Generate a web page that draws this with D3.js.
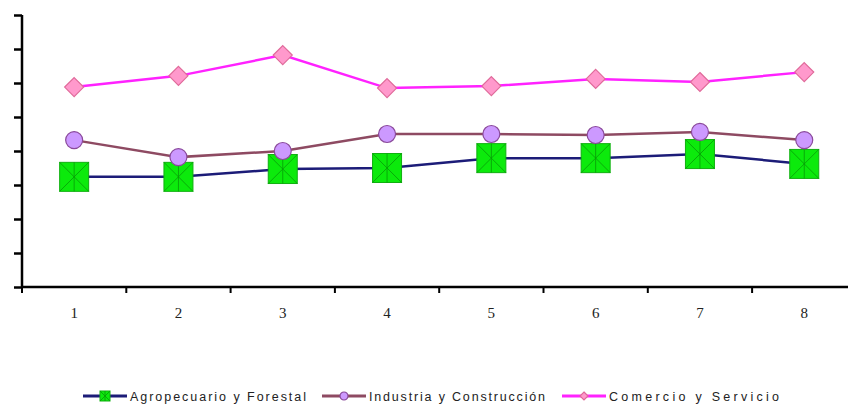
<!DOCTYPE html>
<html>
<head>
<meta charset="utf-8">
<script src="https://cdn.jsdelivr.net/npm/d3@7"></script>
<style>
  body { margin: 0; background: #fff; }
</style>
</head>
<body>
<script>
var categories = ["1", "2", "3", "4", "5", "6", "7", "8"];
var agro = [32.4, 32.4, 34.7, 35.0, 37.9, 37.9, 39.1, 36.2];
var industria = [43.2, 38.2, 40.0, 45.0, 45.0, 44.7, 45.6, 43.2];
var comercio = [58.8, 62.1, 68.2, 58.5, 59.1, 61.2, 60.3, 63.2];
var seriesNames = ["Agropecuario y Forestal", "Industria y Construcción", "Comercio y Servicio"];
var yTicks = [0, 10, 20, 30, 40, 50, 60, 70, 80];

var width = 848, height = 408;
var margin = {top: 15, left: 22, bottom: 121};

var svg = d3.select("body").append("svg")
    .attr("width", width)
    .attr("height", height);

var x = d3.scaleBand()
    .domain(categories)
    .range([margin.left, margin.left + 8 * 104.3]);

var y = d3.scaleLinear()
    .domain([0, 80])
    .range([height - margin.bottom, margin.top]);

var series = [
    {name: seriesNames[0], values: agro, line: "#1c1c78", marker: "square"},
    {name: seriesNames[1], values: industria, line: "#8e4a62", marker: "circle"},
    {name: seriesNames[2], values: comercio, line: "#ff22ff", marker: "diamond"}
];

// axes
var yAxis = svg.append("g")
    .attr("transform", "translate(" + margin.left + ",0)")
    .call(d3.axisLeft(y).tickValues(yTicks).tickSize(8).tickFormat(""));
yAxis.select(".domain").attr("stroke-width", 2.5).attr("d", "M0," + y(80) + "V" + y(0));
yAxis.selectAll(".tick line").attr("stroke-width", 2.5);

var xAxis = svg.append("g")
    .attr("transform", "translate(0," + y(0) + ")");
xAxis.append("line")
    .attr("x1", margin.left).attr("x2", width)
    .attr("stroke", "#000").attr("stroke-width", 2.5);
xAxis.selectAll(".xt")
    .data(categories)
    .enter().append("line")
    .attr("class", "xt")
    .attr("x1", function (d) { return x(d); })
    .attr("x2", function (d) { return x(d); })
    .attr("y1", 0).attr("y2", 6)
    .attr("stroke", "#000").attr("stroke-width", 2);
xAxis.selectAll("text")
    .data(categories)
    .enter().append("text")
    .attr("x", function (d) { return x(d) + x.bandwidth() / 2; })
    .attr("y", 31)
    .attr("text-anchor", "middle")
    .attr("font-family", "Liberation Serif, serif")
    .attr("font-size", "15px")
    .attr("fill", "#222")
    .text(function (d) { return d; });

var line = d3.line()
    .x(function (d, i) { return x(categories[i]) + x.bandwidth() / 2; })
    .y(function (d) { return y(d); });

series.forEach(function (s) {
    svg.append("path")
        .datum(s.values)
        .attr("fill", "none")
        .attr("stroke", s.line)
        .attr("stroke-width", 2.5)
        .attr("d", line);
});

function drawMarker(g, type, size) {
    if (type === "square") {
        var h = size / 2;
        g.append("rect")
            .attr("x", -h).attr("y", -h)
            .attr("width", size).attr("height", size)
            .attr("fill", "#0cea0c").attr("stroke", "#10b010").attr("stroke-width", 1);
        g.append("path")
            .attr("d", "M" + (-h) + "," + (-h) + "L" + h + "," + h +
                "M" + h + "," + (-h) + "L" + (-h) + "," + h +
                "M0," + (-h) + "V" + h)
            .attr("stroke", "#079a07").attr("stroke-width", 0.8);
    } else if (type === "circle") {
        g.append("circle")
            .attr("r", size / 2)
            .attr("fill", "#cc99ff").attr("stroke", "#8a4a9a").attr("stroke-width", 1.2);
    } else {
        var r = size / 2;
        g.append("path")
            .attr("d", "M0," + (-r) + "L" + r + ",0L0," + r + "L" + (-r) + ",0Z")
            .attr("fill", "#ff99cc").attr("stroke", "#e06a9a").attr("stroke-width", 1.2);
    }
}

var sizes = {square: 29, circle: 17, diamond: 19};

series.forEach(function (s) {
    s.values.forEach(function (v, i) {
        var g = svg.append("g")
            .attr("transform", "translate(" + (x(categories[i]) + x.bandwidth() / 2) + "," + y(v) + ")");
        drawMarker(g, s.marker, sizes[s.marker]);
    });
});

// legend
var legendX = [83, 322, 562];
var legendW = [176, 176, 170];
var legend = svg.selectAll(".legend")
    .data(series)
    .enter().append("g")
    .attr("class", "legend")
    .attr("transform", function (d, i) { return "translate(" + legendX[i] + ",396)"; });

legend.append("line")
    .attr("x1", 0).attr("x2", 44)
    .attr("stroke", function (d) { return d.line; })
    .attr("stroke-width", 3);
legend.each(function (d) {
    var g = d3.select(this).append("g").attr("transform", "translate(22,0)");
    drawMarker(g, d.marker, d.marker === "square" ? 10 : 8);
});
legend.append("text")
    .attr("x", 47)
    .attr("y", 4.5)
    .attr("font-family", "Liberation Sans, Arial, sans-serif")
    .attr("font-size", "12.5px")
    .attr("fill", "#222")
    .attr("textLength", function (d, i) { return legendW[i]; })
    .attr("lengthAdjust", "spacing")
    .text(function (d) { return d.name; });
</script>
</body>
</html>
